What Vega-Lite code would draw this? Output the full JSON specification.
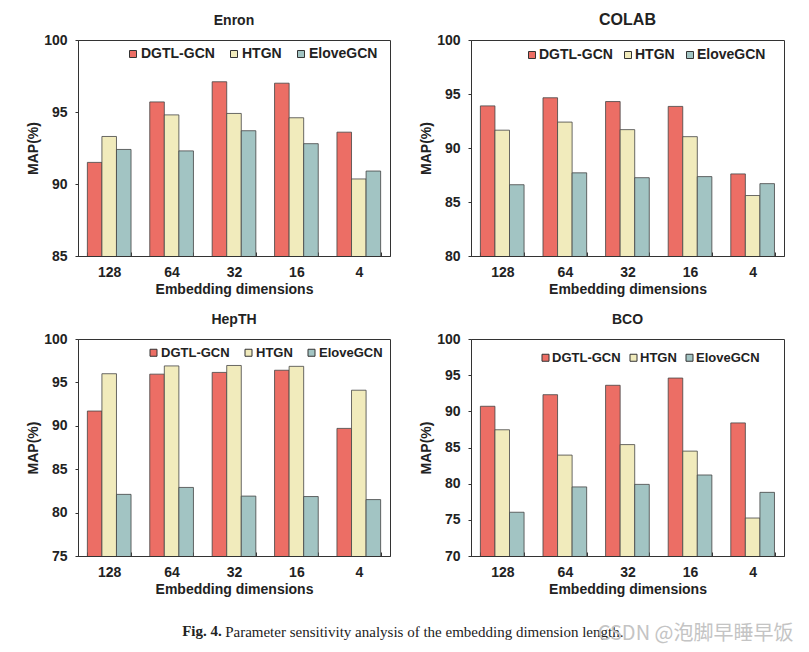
{
  "$schema": "https://vega.github.io/schema/vega-lite/v6.json",
  "background": "white",
  "padding": {"left": 26, "top": 11, "right": 5, "bottom": 5},
  "config": {
    "view": {"stroke": "#333", "strokeWidth": 1},
    "font": "Liberation Sans",
    "axis": {
      "labelFont": "Liberation Sans", "labelFontWeight": "bold", "labelFontSize": 14, "labelColor": "#222",
      "titleFont": "Liberation Sans", "titleFontWeight": "bold", "titleFontSize": 14, "titleColor": "#222",
      "domainColor": "#333", "tickColor": "#333", "grid": false
    },
    "axisX": {"tickBand": "extent", "tickSize": -4, "labelPadding": 13, "labelAngle": 0, "titlePadding": 3},
    "axisY": {"tickSize": 3, "labelPadding": 8, "titlePadding": 3},
    "legend": {
      "orient": "none", "direction": "horizontal", "title": null, "padding": 0,
      "symbolType": "square", "symbolSize": 49, "symbolStrokeColor": "#333", "symbolStrokeWidth": 1,
      "labelFont": "Liberation Sans", "labelFontWeight": "bold", "labelFontSize": 14, "labelColor": "#222",
      "labelOffset": 1, "columnPadding": 13
    },
    "title": {"font": "Liberation Sans", "fontWeight": "bold", "fontSize": 14, "color": "#222", "offset": 5},
    "concat": {"spacing": 28}
  },
  "datasets": {
    "enron": [
      {"dim": "128", "model": "DGTL-GCN", "map": 91.5}, {"dim": "128", "model": "HTGN", "map": 93.3}, {"dim": "128", "model": "EloveGCN", "map": 92.4},
      {"dim": "64", "model": "DGTL-GCN", "map": 95.7}, {"dim": "64", "model": "HTGN", "map": 94.8}, {"dim": "64", "model": "EloveGCN", "map": 92.3},
      {"dim": "32", "model": "DGTL-GCN", "map": 97.1}, {"dim": "32", "model": "HTGN", "map": 94.9}, {"dim": "32", "model": "EloveGCN", "map": 93.7},
      {"dim": "16", "model": "DGTL-GCN", "map": 97.0}, {"dim": "16", "model": "HTGN", "map": 94.6}, {"dim": "16", "model": "EloveGCN", "map": 92.8},
      {"dim": "4", "model": "DGTL-GCN", "map": 93.6}, {"dim": "4", "model": "HTGN", "map": 90.35}, {"dim": "4", "model": "EloveGCN", "map": 90.9}
    ],
    "colab": [
      {"dim": "128", "model": "DGTL-GCN", "map": 93.9}, {"dim": "128", "model": "HTGN", "map": 91.65}, {"dim": "128", "model": "EloveGCN", "map": 86.6},
      {"dim": "64", "model": "DGTL-GCN", "map": 94.65}, {"dim": "64", "model": "HTGN", "map": 92.4}, {"dim": "64", "model": "EloveGCN", "map": 87.7},
      {"dim": "32", "model": "DGTL-GCN", "map": 94.3}, {"dim": "32", "model": "HTGN", "map": 91.7}, {"dim": "32", "model": "EloveGCN", "map": 87.25},
      {"dim": "16", "model": "DGTL-GCN", "map": 93.85}, {"dim": "16", "model": "HTGN", "map": 91.05}, {"dim": "16", "model": "EloveGCN", "map": 87.35},
      {"dim": "4", "model": "DGTL-GCN", "map": 87.6}, {"dim": "4", "model": "HTGN", "map": 85.6}, {"dim": "4", "model": "EloveGCN", "map": 86.7}
    ],
    "hepth": [
      {"dim": "128", "model": "DGTL-GCN", "map": 91.7}, {"dim": "128", "model": "HTGN", "map": 96.0}, {"dim": "128", "model": "EloveGCN", "map": 82.1},
      {"dim": "64", "model": "DGTL-GCN", "map": 95.95}, {"dim": "64", "model": "HTGN", "map": 96.9}, {"dim": "64", "model": "EloveGCN", "map": 82.9},
      {"dim": "32", "model": "DGTL-GCN", "map": 96.15}, {"dim": "32", "model": "HTGN", "map": 96.95}, {"dim": "32", "model": "EloveGCN", "map": 81.9},
      {"dim": "16", "model": "DGTL-GCN", "map": 96.4}, {"dim": "16", "model": "HTGN", "map": 96.85}, {"dim": "16", "model": "EloveGCN", "map": 81.85},
      {"dim": "4", "model": "DGTL-GCN", "map": 89.7}, {"dim": "4", "model": "HTGN", "map": 94.1}, {"dim": "4", "model": "EloveGCN", "map": 81.5}
    ],
    "bco": [
      {"dim": "128", "model": "DGTL-GCN", "map": 90.7}, {"dim": "128", "model": "HTGN", "map": 87.45}, {"dim": "128", "model": "EloveGCN", "map": 76.05},
      {"dim": "64", "model": "DGTL-GCN", "map": 92.3}, {"dim": "64", "model": "HTGN", "map": 83.95}, {"dim": "64", "model": "EloveGCN", "map": 79.55},
      {"dim": "32", "model": "DGTL-GCN", "map": 93.6}, {"dim": "32", "model": "HTGN", "map": 85.4}, {"dim": "32", "model": "EloveGCN", "map": 79.9},
      {"dim": "16", "model": "DGTL-GCN", "map": 94.6}, {"dim": "16", "model": "HTGN", "map": 84.5}, {"dim": "16", "model": "EloveGCN", "map": 81.2},
      {"dim": "4", "model": "DGTL-GCN", "map": 88.4}, {"dim": "4", "model": "HTGN", "map": 75.25}, {"dim": "4", "model": "EloveGCN", "map": 78.8}
    ]
  },
  "title": {
    "text": "CSDN @泡脚早睡早饭", "orient": "bottom", "anchor": "end",
    "font": "Noto Sans CJK SC", "fontSize": 20, "fontWeight": "normal", "color": "#c4c4c4",
    "offset": 0, "dy": -16, "dx": 9
  },
  "vconcat": [
    {
      "title": {
        "text": "Parameter sensitivity analysis of the embedding dimension length.", "orient": "bottom", "anchor": "start",
        "font": "Liberation Serif", "fontSize": 15, "fontWeight": "normal", "color": "#222",
        "offset": 0, "dy": -14, "dx": 199
      },
      "vconcat": [
        {
          "title": {
            "text": "Fig. 4.", "orient": "bottom", "anchor": "start",
            "font": "Liberation Serif", "fontSize": 15, "fontWeight": "bold", "color": "#222",
            "offset": 27, "dx": 156
          },
          "spacing": 15,
          "resolve": {"scale": {"color": "independent"}, "legend": {"color": "independent"}},
          "vconcat": [
            {
              "spacing": 28,
              "resolve": {"scale": {"color": "independent"}, "legend": {"color": "independent"}},
              "hconcat": [
                {
                  "title": {"text": "Enron", "fontSize": 14},
                  "width": 312, "height": 216,
                  "data": {"name": "enron"},
                  "mark": {"type": "bar", "stroke": "#444", "strokeWidth": 0.8, "clip": true},
                  "encoding": {
                    "x": {"field": "dim", "type": "nominal", "sort": ["128", "64", "32", "16", "4"], "title": "Embedding dimensions", "scale": {"paddingInner": 0.3, "paddingOuter": 0.15}},
                    "xOffset": {"field": "model", "type": "nominal", "sort": ["DGTL-GCN", "HTGN", "EloveGCN"], "scale": {"paddingInner": 0, "paddingOuter": 0}},
                    "y": {"field": "map", "type": "quantitative", "title": "MAP(%)", "scale": {"domain": [85, 100], "zero": false, "nice": false}, "axis": {"values": [85, 90, 95, 100]}},
                    "color": {"field": "model", "type": "nominal", "sort": ["DGTL-GCN", "HTGN", "EloveGCN"], "scale": {"domain": ["DGTL-GCN", "HTGN", "EloveGCN"], "range": ["#EC6E65", "#F1EBBC", "#A2C4C3"]}, "legend": {"legendX": 48, "legendY": 7, "labelFontSize": 14, "labelOffset": 1, "columnPadding": 12}}
                  }
                },
                {
                  "title": {"text": "COLAB", "fontSize": 16},
                  "width": 313, "height": 216,
                  "data": {"name": "colab"},
                  "mark": {"type": "bar", "stroke": "#444", "strokeWidth": 0.8, "clip": true},
                  "encoding": {
                    "x": {"field": "dim", "type": "nominal", "sort": ["128", "64", "32", "16", "4"], "title": "Embedding dimensions", "scale": {"paddingInner": 0.3, "paddingOuter": 0.15}},
                    "xOffset": {"field": "model", "type": "nominal", "sort": ["DGTL-GCN", "HTGN", "EloveGCN"], "scale": {"paddingInner": 0, "paddingOuter": 0}},
                    "y": {"field": "map", "type": "quantitative", "title": "MAP(%)", "scale": {"domain": [80, 100], "zero": false, "nice": false}, "axis": {"values": [80, 85, 90, 95, 100]}},
                    "color": {"field": "model", "type": "nominal", "sort": ["DGTL-GCN", "HTGN", "EloveGCN"], "scale": {"domain": ["DGTL-GCN", "HTGN", "EloveGCN"], "range": ["#EC6E65", "#F1EBBC", "#A2C4C3"]}, "legend": {"legendX": 54, "legendY": 8, "labelFontSize": 14, "labelOffset": 0, "columnPadding": 8}}
                  }
                }
              ]
            },
            {
              "spacing": 28,
              "resolve": {"scale": {"color": "independent"}, "legend": {"color": "independent"}},
              "hconcat": [
                {
                  "title": {"text": "HepTH", "fontSize": 14},
                  "width": 312, "height": 217,
                  "data": {"name": "hepth"},
                  "mark": {"type": "bar", "stroke": "#444", "strokeWidth": 0.8, "clip": true},
                  "encoding": {
                    "x": {"field": "dim", "type": "nominal", "sort": ["128", "64", "32", "16", "4"], "title": "Embedding dimensions", "scale": {"paddingInner": 0.3, "paddingOuter": 0.15}},
                    "xOffset": {"field": "model", "type": "nominal", "sort": ["DGTL-GCN", "HTGN", "EloveGCN"], "scale": {"paddingInner": 0, "paddingOuter": 0}},
                    "y": {"field": "map", "type": "quantitative", "title": "MAP(%)", "scale": {"domain": [75, 100], "zero": false, "nice": false}, "axis": {"values": [75, 80, 85, 90, 95, 100]}},
                    "color": {"field": "model", "type": "nominal", "sort": ["DGTL-GCN", "HTGN", "EloveGCN"], "scale": {"domain": ["DGTL-GCN", "HTGN", "EloveGCN"], "range": ["#EC6E65", "#F1EBBC", "#A2C4C3"]}, "legend": {"legendX": 69, "legendY": 7, "labelFontSize": 13, "labelOffset": 1, "columnPadding": 12}}
                  }
                },
                {
                  "title": {"text": "BCO", "fontSize": 14},
                  "width": 313, "height": 217,
                  "data": {"name": "bco"},
                  "mark": {"type": "bar", "stroke": "#444", "strokeWidth": 0.8, "clip": true},
                  "encoding": {
                    "x": {"field": "dim", "type": "nominal", "sort": ["128", "64", "32", "16", "4"], "title": "Embedding dimensions", "scale": {"paddingInner": 0.3, "paddingOuter": 0.15}},
                    "xOffset": {"field": "model", "type": "nominal", "sort": ["DGTL-GCN", "HTGN", "EloveGCN"], "scale": {"paddingInner": 0, "paddingOuter": 0}},
                    "y": {"field": "map", "type": "quantitative", "title": "MAP(%)", "scale": {"domain": [70, 100], "zero": false, "nice": false}, "axis": {"values": [70, 75, 80, 85, 90, 95, 100]}},
                    "color": {"field": "model", "type": "nominal", "sort": ["DGTL-GCN", "HTGN", "EloveGCN"], "scale": {"domain": ["DGTL-GCN", "HTGN", "EloveGCN"], "range": ["#EC6E65", "#F1EBBC", "#A2C4C3"]}, "legend": {"legendX": 68, "legendY": 12, "labelFontSize": 13, "labelOffset": 0, "columnPadding": 6}}
                  }
                }
              ]
            }
          ]
        }
      ]
    }
  ]
}
